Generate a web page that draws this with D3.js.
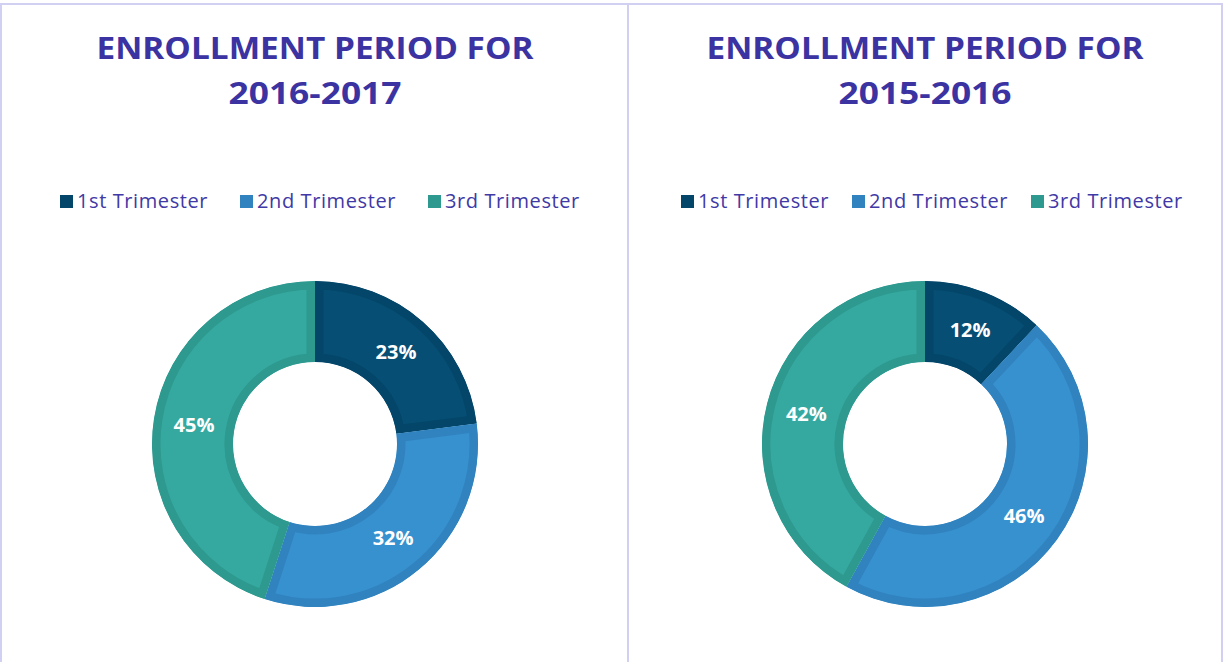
<!DOCTYPE html>
<html lang="en">
<head>
  <meta charset="utf-8">
  <title>Enrollment period</title>
  <script src="https://d3js.org/d3.v7.min.js"></script>
  <style>
    body { margin: 0; background: white; }
    .title { fill: #3b33a1; font-family: "Open Sans", sans-serif; font-weight: bold; text-anchor: middle; }
    .legend { fill: #4039a6; font-family: "Open Sans", sans-serif; font-size: 20px; letter-spacing: 0.6px; }
    .label { fill: white; font-family: "Open Sans", sans-serif; font-weight: bold; font-size: 20px; text-anchor: middle; }
  </style>
</head>
<body>
  <div id="chart"></div>
  <script>
    var categories = ["1st Trimester", "2nd Trimester", "3rd Trimester"];
    var titles = [["ENROLLMENT PERIOD FOR", "2016-2017"], ["ENROLLMENT PERIOD FOR", "2015-2016"]];
    var values2016 = [23, 32, 45];
    var values2015 = [12, 46, 42];

    var fills = ["#064e73", "#3891cf", "#35a9a0"];
    var strokes = ["#03466a", "#3183bf", "#2e998e"];

    var width = 1225, height = 662;
    var svg = d3.select("#chart").append("svg")
      .attr("width", width)
      .attr("height", height);

    // frame
    var frame = svg.append("g").attr("stroke", "#d2d0f2").attr("stroke-width", 2).attr("fill", "none");
    frame.append("line").attr("x1", 1).attr("x2", 1).attr("y1", 3).attr("y2", height);
    frame.append("line").attr("x1", 0).attr("x2", 1223).attr("y1", 4).attr("y2", 4);
    frame.append("line").attr("x1", 628).attr("x2", 628).attr("y1", 3).attr("y2", height);
    frame.append("line").attr("x1", 1222).attr("x2", 1222).attr("y1", 3).attr("y2", height);

    var panels = [
      { cx: 315, title: titles[0], values: values2016, legendX: [60, 240, 428] },
      { cx: 925, title: titles[1], values: values2015, legendX: [681, 852, 1031] }
    ];

    var cy = 444, outerR = 163, innerR = 82;
    var pie = d3.pie().sort(null).value(function(d) { return d; });
    var arc = d3.arc().innerRadius(innerR).outerRadius(outerR);

    panels.forEach(function(p, pi) {
      var g = svg.append("g");

      // title, two lines
      p.title.forEach(function(t, i) {
        g.append("text")
          .attr("class", "title")
          .attr("x", p.cx)
          .attr("y", 59 + i * 45)
          .attr("font-size", 31)
          .attr("textLength", i == 0 ? 437 : 173)
          .attr("lengthAdjust", "spacingAndGlyphs")
          .text(t);
      });

      // legend
      categories.forEach(function(c, i) {
        g.append("rect")
          .attr("x", p.legendX[i])
          .attr("y", 195)
          .attr("width", 13)
          .attr("height", 13)
          .attr("fill", strokes[i]);
        g.append("text")
          .attr("class", "legend")
          .attr("x", p.legendX[i] + 17)
          .attr("y", 208)
          .text(c);
      });

      // donut
      var donut = g.append("g").attr("transform", "translate(" + p.cx + "," + cy + ")");
      var arcs = pie(p.values);

      var defs = svg.append("defs");
      arcs.forEach(function(a, i) {
        defs.append("clipPath")
          .attr("id", "clip" + pi + "_" + i)
          .append("path")
          .attr("d", arc(a));
      });

      donut.selectAll("path.slice")
        .data(arcs)
        .enter()
        .append("path")
          .attr("class", "slice")
          .attr("d", arc)
          .attr("fill", function(d, i) { return fills[i]; })
          .attr("stroke", function(d, i) { return strokes[i]; })
          .attr("stroke-width", 17)
          .attr("clip-path", function(d, i) { return "url(#clip" + pi + "_" + i + ")"; });

      donut.selectAll("text.label")
        .data(arcs)
        .enter()
        .append("text")
          .attr("class", "label")
          .attr("x", function(d) { return arc.centroid(d)[0]; })
          .attr("y", function(d) { return arc.centroid(d)[1] + 7; })
          .text(function(d) { return d.data + "%"; });
    });
  </script>
</body>
</html>
